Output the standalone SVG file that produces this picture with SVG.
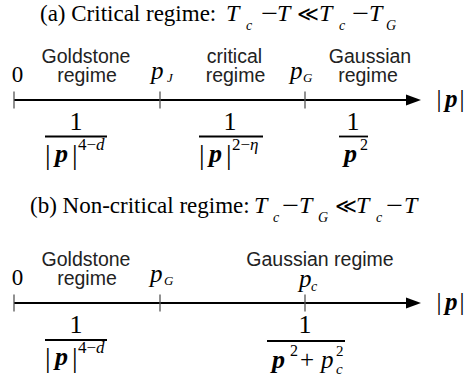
<svg xmlns="http://www.w3.org/2000/svg" width="465" height="385" viewBox="0 0 465 385">
<style>
.ax{stroke:#000;stroke-width:2;fill:none}
.tk{stroke:#555;stroke-width:1.3}
.lb{font-family:"Liberation Sans",Arial,sans-serif;font-size:19.5px;text-anchor:middle;fill:#222}
.rm{font-family:"Liberation Serif","DejaVu Serif",serif;fill:#000}
.it{font-style:italic}
.bi{font-style:italic;font-weight:bold}
.fb{stroke:#000;stroke-width:1.8}
.mid{text-anchor:middle}
.mn{font-size:23px}
</style>
<defs>
<marker id="ah" markerWidth="16" markerHeight="12" refX="0" refY="6" orient="auto" markerUnits="userSpaceOnUse"><path d="M0,0.5 L15,6 L0,11.5 Z" fill="#000"/></marker>
</defs>
<rect width="465" height="385" fill="#fff"/>

<g id="title-a">
<text class="rm" x="40" y="21" font-size="23">(a) Critical regime:</text>
<text class="rm it" x="226" y="21" font-size="24">T</text>
<text class="rm it" x="246" y="30" font-size="14">c</text>
<text class="rm mn" x="261" y="21" textLength="17" lengthAdjust="spacingAndGlyphs">−</text>
<text class="rm it" x="277" y="21" font-size="24">T</text>
<text class="rm mid" x="308" y="21" font-size="21">≪</text>
<text class="rm it" x="319" y="21" font-size="24">T</text>
<text class="rm it" x="339" y="30" font-size="14">c</text>
<text class="rm mn" x="352" y="21" textLength="17" lengthAdjust="spacingAndGlyphs">−</text>
<text class="rm it" x="369" y="21" font-size="24">T</text>
<text class="rm it" x="386" y="30" font-size="14">G</text>
</g>

<g id="connectors">
<line class="ax" x1="14" y1="100" x2="406" y2="100" marker-end="url(#ah)"/>
<line class="tk" x1="14" y1="91.5" x2="14" y2="108.5"/>
<line class="tk" x1="160" y1="91.5" x2="160" y2="108.5"/>
<line class="tk" x1="305" y1="91.5" x2="305" y2="108.5"/>
<line class="ax" x1="14" y1="303" x2="406" y2="303" marker-end="url(#ah)"/>
<line class="tk" x1="14" y1="294.5" x2="14" y2="311.5"/>
<line class="tk" x1="160" y1="294.5" x2="160" y2="311.5"/>
<line class="tk" x1="305" y1="294.5" x2="305" y2="311.5"/>
</g>

<g id="axis-a-labels">
<text class="rm mid" x="17.5" y="82" font-size="23">0</text>
<text class="lb" x="86" y="63">Goldstone</text>
<text class="lb" x="87" y="82">regime</text>
<text class="rm it" x="151" y="79" font-size="25">p</text>
<text class="rm it" x="167" y="82" font-size="13">J</text>
<text class="lb" x="234.5" y="63">critical</text>
<text class="lb" x="235.5" y="82">regime</text>
<text class="rm it" x="290" y="79" font-size="25">p</text>
<text class="rm it" x="303" y="82" font-size="13">G</text>
<text class="lb" x="370" y="63">Gaussian</text>
<text class="lb" x="368" y="82">regime</text>
</g>

<g id="p-label-a">
<text class="rm" y="107" font-size="25"><tspan x="436.5">|</tspan><tspan class="bi" x="445">p</tspan><tspan x="459.5">|</tspan></text>
</g>

<g id="frac-goldstone-a">
<text class="rm mid" x="76" y="130" font-size="26">1</text>
<line class="fb" x1="45" y1="136.5" x2="107" y2="136.5"/>
<text class="rm" font-size="28"><tspan x="45" y="163.5">|</tspan><tspan class="bi" x="55" y="162" font-size="26">p</tspan><tspan x="72" y="163.5">|</tspan><tspan x="78" y="150" font-size="17">4−</tspan><tspan class="it" font-size="17">d</tspan></text>
</g>

<g id="frac-critical-a">
<text class="rm mid" x="230" y="130" font-size="26">1</text>
<line class="fb" x1="199" y1="136.5" x2="263" y2="136.5"/>
<text class="rm" font-size="28"><tspan x="199" y="163.5">|</tspan><tspan class="bi" x="209" y="162" font-size="26">p</tspan><tspan x="226" y="163.5">|</tspan><tspan x="232" y="150" font-size="17">2−</tspan><tspan class="it" font-size="17">η</tspan></text>
</g>

<g id="frac-gaussian-a">
<text class="rm mid" x="353" y="130" font-size="26">1</text>
<line class="fb" x1="339" y1="136.5" x2="368" y2="136.5"/>
<text class="rm"><tspan class="bi" x="344" y="162" font-size="26">p</tspan><tspan x="360" y="150" font-size="16">2</tspan></text>
</g>

<g id="title-b">
<text class="rm" x="30" y="213" font-size="23">(b) Non-critical regime:</text>
<text class="rm it" x="254" y="213" font-size="24">T</text>
<text class="rm it" x="273" y="222" font-size="14">c</text>
<text class="rm mn" x="282" y="213" textLength="17" lengthAdjust="spacingAndGlyphs">−</text>
<text class="rm it" x="299" y="213" font-size="24">T</text>
<text class="rm it" x="318" y="222" font-size="14">G</text>
<text class="rm mid" x="346" y="213" font-size="21">≪</text>
<text class="rm it" x="356" y="213" font-size="24">T</text>
<text class="rm it" x="376" y="222" font-size="14">c</text>
<text class="rm mn" x="386" y="213" textLength="17" lengthAdjust="spacingAndGlyphs">−</text>
<text class="rm it" x="404" y="213" font-size="24">T</text>
</g>

<g id="axis-b-labels">
<text class="rm mid" x="17.5" y="285" font-size="23">0</text>
<text class="lb" x="86" y="266">Goldstone</text>
<text class="lb" x="87" y="285">regime</text>
<text class="rm it" x="150" y="282" font-size="25">p</text>
<text class="rm it" x="164" y="285" font-size="13">G</text>
<text class="lb" x="320" y="266">Gaussian regime</text>
<text class="rm it" x="299" y="287" font-size="25">p</text>
<text class="rm it" x="311" y="291" font-size="14">c</text>
</g>

<g id="p-label-b">
<text class="rm" y="310" font-size="25"><tspan x="436.5">|</tspan><tspan class="bi" x="445">p</tspan><tspan x="459.5">|</tspan></text>
</g>

<g id="frac-goldstone-b">
<text class="rm mid" x="76" y="333" font-size="26">1</text>
<line class="fb" x1="45" y1="340" x2="107" y2="340"/>
<text class="rm" font-size="28"><tspan x="45" y="366.5">|</tspan><tspan class="bi" x="55" y="365" font-size="26">p</tspan><tspan x="72" y="366.5">|</tspan><tspan x="78" y="353" font-size="17">4−</tspan><tspan class="it" font-size="17">d</tspan></text>
</g>

<g id="frac-gaussian-b">
<text class="rm mid" x="305" y="333" font-size="26">1</text>
<line class="fb" x1="267" y1="341" x2="345" y2="341"/>
<text class="rm"><tspan class="bi" x="272" y="368" font-size="26">p</tspan><tspan x="290" y="356" font-size="16">2</tspan><tspan x="300" y="368" font-size="25">+</tspan><tspan class="it" x="321" y="368" font-size="25">p</tspan><tspan x="336" y="356" font-size="15">2</tspan><tspan class="it" x="336" y="374" font-size="15">c</tspan></text>
</g>
</svg>
